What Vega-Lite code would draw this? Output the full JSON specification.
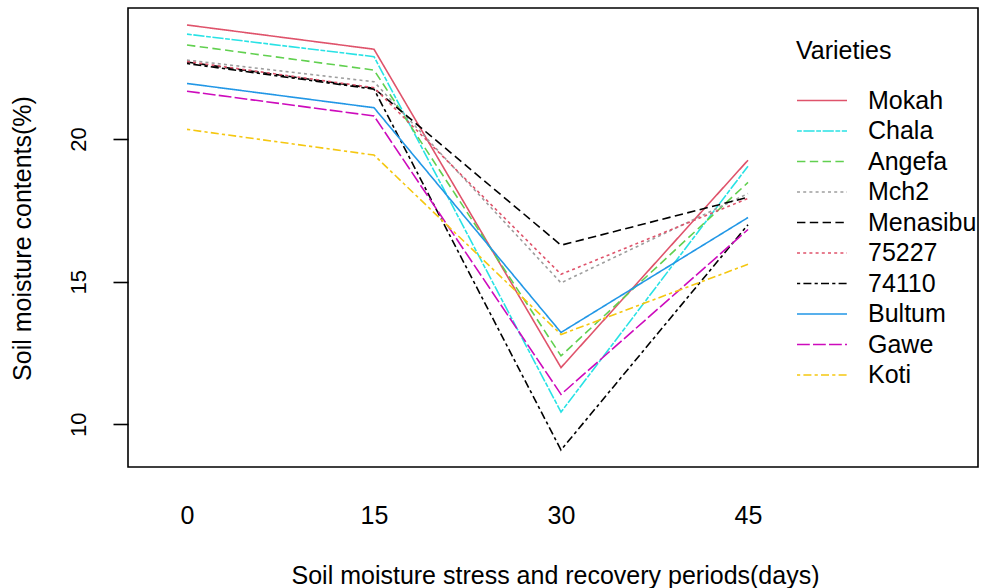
{
  "$schema": "https://vega.github.io/schema/vega-lite/v6.json",
  "autosize": {"type": "none"},
  "padding": {"left": 128, "top": 8, "right": 5, "bottom": 121},
  "width": 850,
  "height": 459,
  "background": "white",
  "config": {
    "font": "Liberation Sans",
    "view": {"stroke": "black", "strokeWidth": 1.6},
    "axis": {"grid": false, "labelColor": "black", "titleColor": "black", "titleFontWeight": "normal"},
    "legend": {
      "orient": "none",
      "legendX": 668,
      "legendY": 31,
      "padding": 0,
      "titleFontSize": 25,
      "titleFontWeight": "normal",
      "titleColor": "black",
      "titlePadding": 23,
      "labelFontSize": 25,
      "labelColor": "black",
      "labelOffset": 45,
      "labelLimit": 300,
      "rowPadding": 3.5,
      "symbolType": "M-1,0H3",
      "symbolSize": 625,
      "symbolStrokeWidth": 1.6
    }
  },
  "data": {
    "values": [
      {"variety": "Mokah", "day": 0, "moisture": 24.0},
      {"variety": "Mokah", "day": 15, "moisture": 23.15},
      {"variety": "Mokah", "day": 30, "moisture": 11.99},
      {"variety": "Mokah", "day": 45, "moisture": 19.26},
      {"variety": "Chala", "day": 0, "moisture": 23.68},
      {"variety": "Chala", "day": 15, "moisture": 22.89},
      {"variety": "Chala", "day": 30, "moisture": 10.43},
      {"variety": "Chala", "day": 45, "moisture": 19.05},
      {"variety": "Angefa", "day": 0, "moisture": 23.3},
      {"variety": "Angefa", "day": 15, "moisture": 22.42},
      {"variety": "Angefa", "day": 30, "moisture": 12.4},
      {"variety": "Angefa", "day": 45, "moisture": 18.48},
      {"variety": "Mch2", "day": 0, "moisture": 22.77},
      {"variety": "Mch2", "day": 15, "moisture": 22.01},
      {"variety": "Mch2", "day": 30, "moisture": 14.96},
      {"variety": "Mch2", "day": 45, "moisture": 18.09},
      {"variety": "Menasibu", "day": 0, "moisture": 22.7},
      {"variety": "Menasibu", "day": 15, "moisture": 21.78},
      {"variety": "Menasibu", "day": 30, "moisture": 16.28},
      {"variety": "Menasibu", "day": 45, "moisture": 17.96},
      {"variety": "75227", "day": 0, "moisture": 22.72},
      {"variety": "75227", "day": 15, "moisture": 21.8},
      {"variety": "75227", "day": 30, "moisture": 15.26},
      {"variety": "75227", "day": 45, "moisture": 17.92},
      {"variety": "74110", "day": 0, "moisture": 22.65},
      {"variety": "74110", "day": 15, "moisture": 21.75},
      {"variety": "74110", "day": 30, "moisture": 9.1},
      {"variety": "74110", "day": 45, "moisture": 17.0},
      {"variety": "Bultum", "day": 0, "moisture": 21.95},
      {"variety": "Bultum", "day": 15, "moisture": 21.1},
      {"variety": "Bultum", "day": 30, "moisture": 13.22},
      {"variety": "Bultum", "day": 45, "moisture": 17.25},
      {"variety": "Gawe", "day": 0, "moisture": 21.68},
      {"variety": "Gawe", "day": 15, "moisture": 20.81},
      {"variety": "Gawe", "day": 30, "moisture": 11.05},
      {"variety": "Gawe", "day": 45, "moisture": 16.83},
      {"variety": "Koti", "day": 0, "moisture": 20.34},
      {"variety": "Koti", "day": 15, "moisture": 19.44},
      {"variety": "Koti", "day": 30, "moisture": 13.15},
      {"variety": "Koti", "day": 45, "moisture": 15.61}
    ]
  },
  "mark": {"type": "line", "strokeWidth": 1.6},
  "encoding": {
    "x": {
      "field": "day",
      "type": "quantitative",
      "scale": {"domain": [-4.733, 63.45], "nice": false, "zero": false},
      "axis": {
        "values": [0, 15, 30, 45],
        "ticks": false,
        "tickSize": 0,
        "domain": false,
        "labelFontSize": 25,
        "labelBaseline": "alphabetic",
        "labelPadding": 56,
        "labelFlush": false,
        "title": "Soil moisture stress and recovery periods(days)",
        "titleFontSize": 25,
        "titleBaseline": "alphabetic",
        "titleX": 427,
        "titleY": 116
      }
    },
    "y": {
      "field": "moisture",
      "type": "quantitative",
      "scale": {"domain": [8.504, 24.596], "nice": false, "zero": false},
      "axis": {
        "values": [10, 15, 20],
        "domain": false,
        "tickSize": 15,
        "tickWidth": 1.6,
        "tickColor": "black",
        "labelFontSize": 22,
        "labelAngle": 270,
        "labelAlign": "center",
        "labelBaseline": "middle",
        "labelPadding": 35,
        "title": "Soil moisture contents(%)",
        "titleFontSize": 25,
        "titleAngle": 270,
        "titleBaseline": "alphabetic",
        "titleAlign": "center",
        "titleX": -98,
        "titleY": 230
      }
    },
    "color": {
      "field": "variety",
      "type": "nominal",
      "title": "Varieties",
      "scale": {
        "domain": ["Mokah", "Chala", "Angefa", "Mch2", "Menasibu", "75227", "74110", "Bultum", "Gawe", "Koti"],
        "range": ["#DF536B", "#28E2E5", "#61D04F", "#9E9E9E", "#000000", "#DF536B", "#000000", "#2297E6", "#CD0BBC", "#F5C710"]
      }
    },
    "strokeDash": {
      "field": "variety",
      "type": "nominal",
      "title": "Varieties",
      "scale": {
        "domain": ["Mokah", "Chala", "Angefa", "Mch2", "Menasibu", "75227", "74110", "Bultum", "Gawe", "Koti"],
        "range": [[1, 0], [4.8, 1.6, 11.2, 1.6], [8.4, 4.4], [3, 3.2], [8.4, 4.4], [3, 3.2], [3.2, 3.2, 8, 3.2], [1, 0], [12.8, 3.2], [3.2, 3.2, 8, 3.2]]
      }
    }
  }
}
